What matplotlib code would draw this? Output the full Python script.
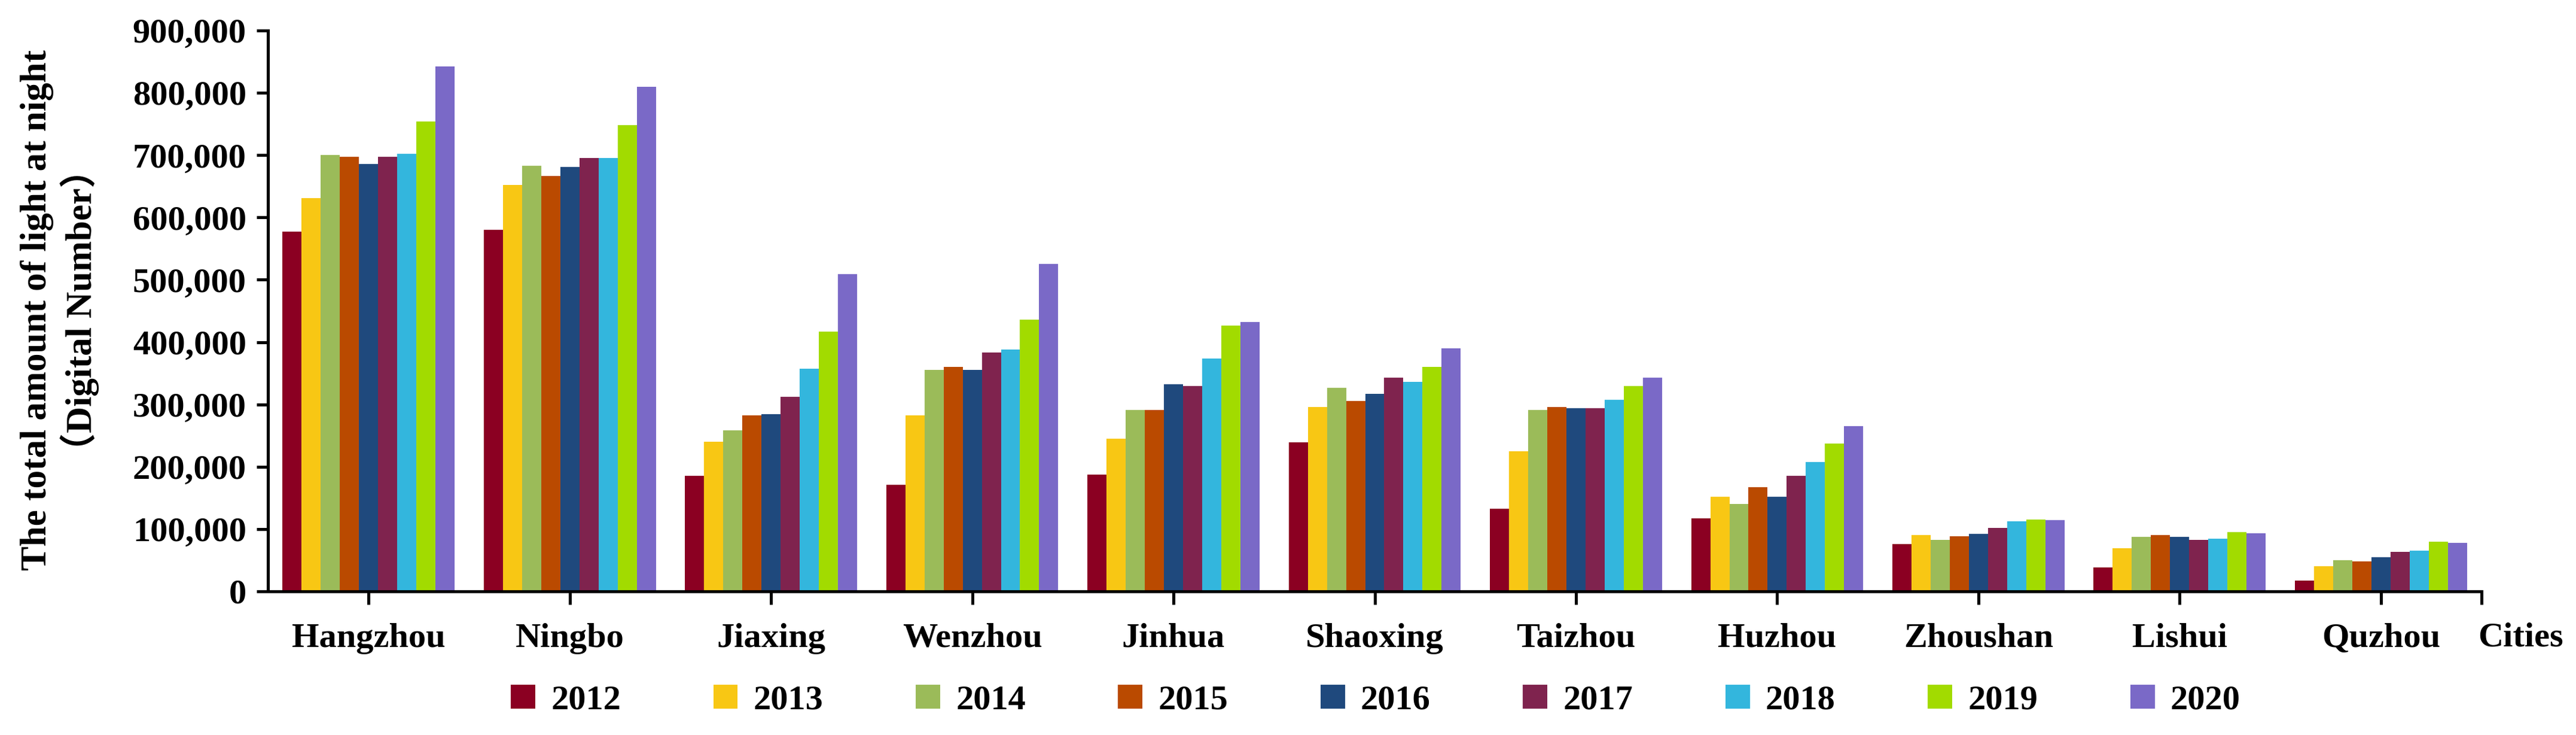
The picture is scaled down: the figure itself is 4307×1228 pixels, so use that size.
import numpy as np
import matplotlib
matplotlib.use("Agg")
import matplotlib.pyplot as plt
from matplotlib.patches import Patch
from matplotlib.ticker import FuncFormatter

cities = ["Hangzhou", "Ningbo", "Jiaxing", "Wenzhou", "Jinhua", "Shaoxing",
          "Taizhou", "Huzhou", "Zhoushan", "Lishui", "Quzhou"]
years = ["2012", "2013", "2014", "2015", "2016", "2017", "2018", "2019", "2020"]

v2012 = [577000, 580000, 185000, 171000, 187000, 239000, 133000, 117000, 76000, 38000, 17000]
v2013 = [631000, 652000, 240000, 282000, 245000, 296000, 225000, 152000, 90000, 69000, 40000]
v2014 = [700000, 683000, 258000, 355000, 291000, 327000, 291000, 140000, 83000, 87000, 50000]
v2015 = [697000, 667000, 282000, 360000, 291000, 305000, 296000, 167000, 88000, 90000, 48000]
v2016 = [686000, 681000, 284000, 355000, 332000, 317000, 294000, 152000, 92000, 87000, 55000]
v2017 = [697000, 695000, 312000, 383000, 329000, 343000, 294000, 185000, 102000, 83000, 63000]
v2018 = [702000, 695000, 357000, 388000, 374000, 336000, 307000, 207000, 112000, 85000, 65000]
v2019 = [754000, 748000, 417000, 436000, 426000, 360000, 329000, 237000, 115000, 95000, 80000]
v2020 = [842000, 810000, 509000, 525000, 432000, 390000, 343000, 265000, 114000, 93000, 78000]
series = [v2012, v2013, v2014, v2015, v2016, v2017, v2018, v2019, v2020]

colors = ["#8B0022", "#F8C714", "#9BBB59", "#BA4A00", "#1F497D",
          "#7F234E", "#33B6DD", "#A2DB00", "#7A69C7"]

serif = ["Liberation Serif", "Noto Sans CJK SC", "DejaVu Serif"]
plt.rcParams["font.family"] = serif
plt.rcParams["font.weight"] = "bold"

W, H, DPI = 4307, 1228, 100
fig = plt.figure(figsize=(W / DPI, H / DPI), dpi=DPI)
ax = fig.add_axes([448 / W, 1 - 988 / H, (4149 - 448) / W, (988 - 51) / H])

x = np.arange(len(cities))
bw = 0.095
for i, (vals, c) in enumerate(zip(series, colors)):
    ax.bar(x + (i - 4) * bw, vals, width=bw, color=c, edgecolor="none", zorder=2)

ax.set_xlim(-0.5, len(cities) - 0.5)
ax.set_ylim(0, 900000)
ax.set_yticks(np.arange(0, 900001, 100000))
ax.yaxis.set_major_formatter(FuncFormatter(lambda v, p: f"{int(v):,}"))
ax.set_xticks(list(x) + [len(cities) - 0.5])
ax.set_xticklabels(cities + [""])

for s in ["top", "right"]:
    ax.spines[s].set_visible(False)
for s in ["left", "bottom"]:
    ax.spines[s].set_linewidth(3.6)
    ax.spines[s].set_color("black")

ax.tick_params(axis="y", direction="out", length=14, width=3.6, pad=12, labelsize=42)
ax.tick_params(axis="x", direction="out", length=16, width=3.6, pad=22, labelsize=42)
for lab in ax.get_xticklabels() + ax.get_yticklabels():
    lab.set_fontweight("bold")

fig.text(100 / W, 1 - 518 / H,
         "The total amount of light at night\n（Digital Number）",
         rotation=90, ha="center", va="center", multialignment="center",
         fontsize=44, fontweight="bold", linespacing=1.2, family=serif)

fig.text(4143 / W, 1 - 1066 / H, "Cities", ha="left", va="center",
         fontsize=42, fontweight="bold", family=serif)

handles = [Patch(facecolor=c, edgecolor="none") for c in colors]
fig.legend(handles, years, loc="center", bbox_to_anchor=(2300 / W, 1 - 1170 / H),
           ncol=9, frameon=False, handlelength=0.7, handleheight=0.7,
           handletextpad=0.45, columnspacing=2.65, prop={"weight": "bold", "size": 42})

fig.savefig("out.png", dpi=DPI, facecolor="white")
